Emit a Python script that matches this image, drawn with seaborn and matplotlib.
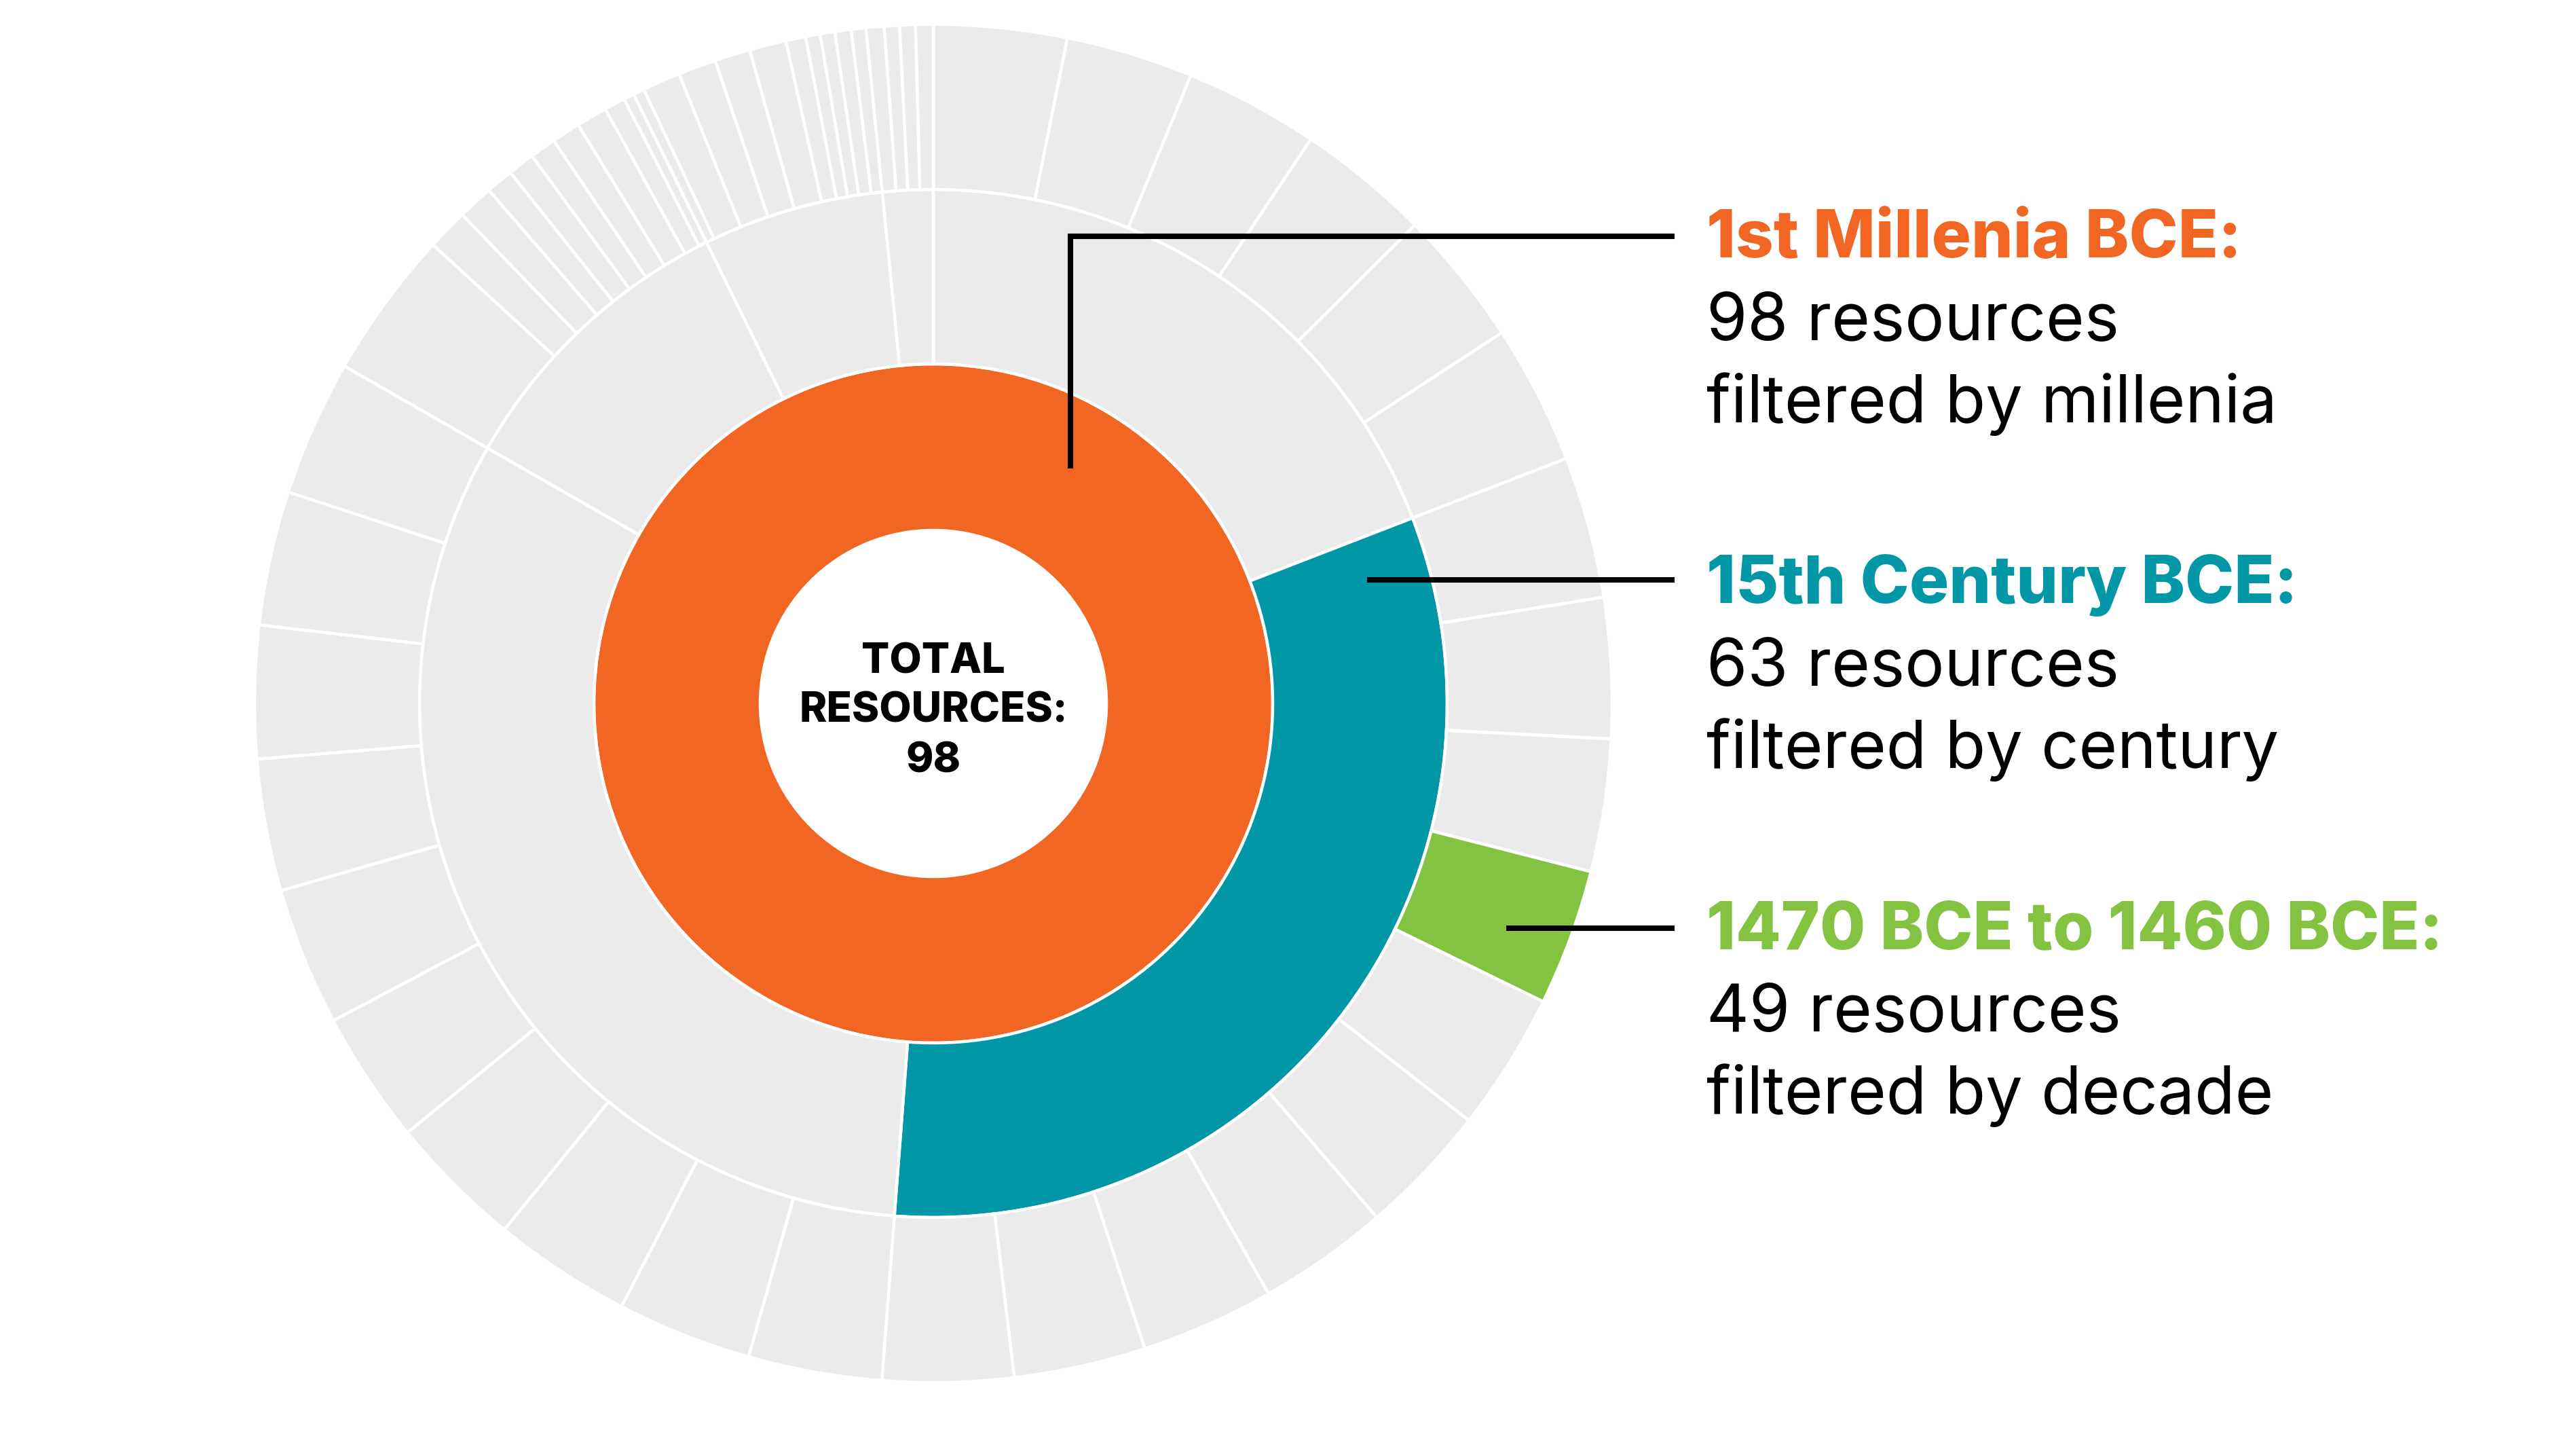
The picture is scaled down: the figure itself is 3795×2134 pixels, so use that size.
import numpy as np
import pandas as pd
import matplotlib.pyplot as plt
import seaborn as sns

# Sunburst rings, inner -> outer. Sizes are arc lengths (degrees)
millenia_size = [360.0]

century_size = [68.85, 115.5, 115.45, 34.0, 20.5, 5.7]
century_pick = 1  # 15th Century BCE

decade_size = [11.4, 10.9, 11.5, 11.4, 11.7, 11.95, 12.15, 12.0, 11.35, 11.7,
               11.85, 11.3, 11.2, 11.45, 11.3, 11.2, 11.45, 11.55, 11.85, 11.6,
               11.35, 11.85, 11.3, 11.35, 11.5, 11.65, 12.7, 3.55, 3.05, 2.35,
               2.3, 2.25, 2.45, 2.65, 1.8, 0.9, 0.95, 3.25, 3.25, 3.05,
               3.15, 1.7, 1.25, 1.25, 1.4, 1.25, 1.55, 1.3, 1.35, 1.5]
decade_pick = 9  # 1470 BCE to 1460 BCE

total_resources = 98
label_titles = ['1st Millenia BCE:', '15th Century BCE:', '1470 BCE to 1460 BCE:']
label_counts = [98, 63, 49]
label_units = ['millenia', 'century', 'decade']

ORANGE = '#F26624'
TEAL = '#0297A7'
GREEN = '#84C342'
GREY = '#EBEBEB'

sns.set_theme(style='white')
plt.rcParams['font.family'] = ['Inter', 'DejaVu Sans']

W, H = 3795, 2134
fig = plt.figure(figsize=(W / 200, H / 200), dpi=200)
ax = fig.add_axes([0, 0, 1, 1])

# one data unit = 1000 px, so the outer radius is 1
center = (1.375, (H - 1036) / 1000)
lw = 1.6

def ring(sizes, colors, r_out, r_in):
    ax.pie(sizes, radius=r_out, colors=colors, center=center,
           startangle=90, counterclock=False,
           wedgeprops=dict(width=r_out - r_in, edgecolor='white', linewidth=lw))

ring(millenia_size, [ORANGE], 0.5, 0.255)
century_colors = [TEAL if i == century_pick else GREY for i in range(len(century_size))]
ring(century_size, century_colors, 0.757, 0.5)
decade_colors = [GREEN if i == decade_pick else GREY for i in range(len(decade_size))]
ring(decade_size, decade_colors, 1.0, 0.757)

ax.set_xlim(0, W / 1000)
ax.set_ylim(0, H / 1000)
ax.set_aspect('equal')
ax.axis('off')

def py(v):
    return (H - v) / 1000

# centre label
for txt, base in zip(['TOTAL', 'RESOURCES:', str(total_resources)], [991, 1063, 1137]):
    ax.text(center[0], py(base), txt, ha='center', va='baseline',
            fontsize=22, fontweight='heavy', color='black')

# leader lines
line_kw = dict(color='black', linewidth=2.9, solid_capstyle='butt', solid_joinstyle='miter')
ax.plot([1.577, 1.577, 2.467], [py(690), py(348), py(348)], **line_kw)
ax.plot([2.014, 2.467], [py(854), py(854)], **line_kw)
ax.plot([2.219, 2.467], [py(1367), py(1367)], **line_kw)

# labels on the right
title_base = [379, 888, 1397]
label_colors = [ORANGE, TEAL, GREEN]
for title, n, unit, base, col in zip(label_titles, label_counts, label_units,
                                     title_base, label_colors):
    ax.text(2.514, py(base), title, ha='left', va='baseline',
            fontsize=35, fontweight='heavy', color=col)
    ax.text(2.514, py(base + 122), f'{n} resources', ha='left', va='baseline',
            fontsize=35, color='black')
    ax.text(2.514, py(base + 243), f'filtered by {unit}', ha='left', va='baseline',
            fontsize=35, color='black')

fig.savefig('out.png', dpi=200, facecolor='white')
